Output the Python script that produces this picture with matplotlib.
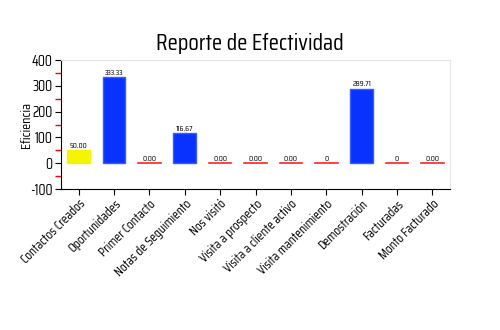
import numpy as np
import matplotlib
matplotlib.use("Agg")
import matplotlib.pyplot as plt
from matplotlib.ticker import MultipleLocator

categorias = ["Contactos Creados", "Oportunidades", "Primer Contacto", "Notas de Seguimiento",
              "Nos visitó", "Visita a prospecto", "Visita a cliente activo", "Visita mantenimiento",
              "Demostración", "Facturadas", "Monto Facturado"]
valores = [50.00, 333.33, 0.00, 116.67, 0.00, 0.00, 0.00, 0, 289.71, 0, 0.00]
etiquetas = ["50.00", "333.33", "0.00", "116.67", "0.00", "0.00", "0.00", "0", "289.71", "0", "0.00"]
colores = ["#f5f500", "#0a32ff", "#ff0000", "#0a32ff", "#ff0000", "#ff0000", "#ff0000",
           "#ff0000", "#0a32ff", "#ff0000", "#ff0000"]

plt.rcParams['font.family'] = ['Saira Condensed', 'DejaVu Sans']
plt.rcParams['axes.unicode_minus'] = False

fig = plt.figure(figsize=(5, 3.3), dpi=100)
ax = fig.add_axes([0.122, 0.427, 0.778, 0.391])

x = np.arange(len(categorias))
w = 0.64
for i, v in enumerate(valores):
    if v == 0:
        ax.plot([i - w / 2, i + w / 2], [0, 0], color="#ff2020", lw=1.2)
    else:
        ec = colores[i] if colores[i] == "#f5f500" else "#3a5cff"
        ax.bar(i, v, width=w, color=colores[i], edgecolor=ec, linewidth=1)
    ax.text(i, v + 6, etiquetas[i], ha="center", va="bottom", fontsize=6)

ax.set_xlim(-0.5, len(categorias) - 0.5)
ax.set_ylim(-100, 400)
ax.yaxis.set_major_locator(MultipleLocator(100))
ax.yaxis.set_minor_locator(MultipleLocator(50))
ax.tick_params(axis="y", which="minor", color="red", length=4, width=1)
ax.tick_params(axis="y", which="major", length=4, labelsize=10.5, pad=2)
ax.tick_params(axis="x", length=4, labelsize=9.5, pad=2)
ax.set_xticks(x)
ax.set_xticklabels(categorias, rotation=45, ha="right", rotation_mode="anchor")
ax.set_ylabel("Eficiencia", fontsize=10, labelpad=-2)

for s in ["top", "right"]:
    ax.spines[s].set_color("#e4e4e4")
ax.spines["left"].set_color("black")
ax.spines["bottom"].set_color("black")

fig.suptitle("Reporte de Efectividad", y=0.9, fontsize=17)

fig.savefig("out.png", dpi=100)
